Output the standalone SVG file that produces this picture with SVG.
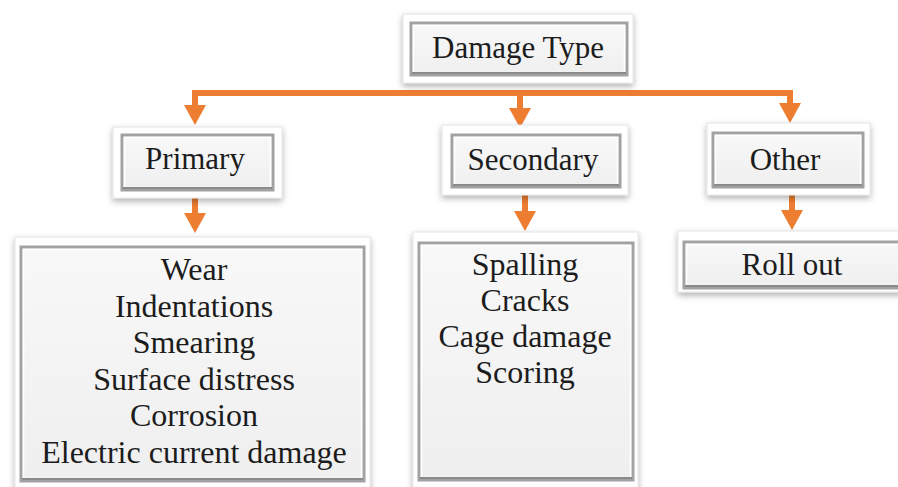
<svg xmlns="http://www.w3.org/2000/svg" width="898" height="487" viewBox="0 0 898 487">
  <defs>
    <filter id="shadow" x="-10%" y="-10%" width="120%" height="130%">
      <feDropShadow dx="0" dy="3" stdDeviation="3" flood-color="#000" flood-opacity="0.3"/>
    </filter>
    <linearGradient id="face" x1="0" y1="0" x2="0" y2="1">
      <stop offset="0" stop-color="#f8f8f8"/>
      <stop offset="1" stop-color="#efefef"/>
    </linearGradient>
    <!-- arrowhead drawn pointing along +x; base sits on the path end -->
    <marker id="arrow" viewBox="0 0 20 22" refX="0" refY="11" markerWidth="20" markerHeight="22" markerUnits="userSpaceOnUse" orient="auto">
      <path d="M0,0 L20,11 L0,22 Z" fill="#ed7d31"/>
    </marker>
  </defs>
  <style>
    .frame { fill: #ffffff; stroke: #e4e4e4; stroke-width: 1; filter: url(#shadow); }
    .face { fill: url(#face); stroke: #a2a2a2; stroke-width: 3; }
    .hi { fill: none; stroke: #ffffff; stroke-width: 1.5; }
    .shade { fill: none; stroke: #8a8a8a; stroke-width: 2; }
    .label { font-family: "Liberation Serif", "Times New Roman", serif; font-size: 31px; fill: #1c1c1c; text-anchor: middle; }
    .item { font-size: 32px; }
    .conn { fill: none; stroke: #ed7d31; stroke-width: 6; }
  </style>

  <rect width="898" height="487" fill="#ffffff"/>

  <!-- connectors -->
  <g id="connectors">
    <path class="conn" d="M192,93 H793"/>
    <path class="conn" d="M195,90 V105" marker-end="url(#arrow)"/>
    <path class="conn" d="M520,93 V108" marker-end="url(#arrow)"/>
    <path class="conn" d="M790,90 V103" marker-end="url(#arrow)"/>
    <path class="conn" d="M195,198 V213" marker-end="url(#arrow)"/>
    <path class="conn" d="M525,195 V211" marker-end="url(#arrow)"/>
    <path class="conn" d="M792,195 V210" marker-end="url(#arrow)"/>
  </g>

  <!-- top node -->
  <g id="damage-type">
    <rect class="frame" x="403" y="14" width="230" height="69"/>
    <rect class="face" x="411" y="23" width="216" height="52"/>
    <rect class="hi" x="413.5" y="25.5" width="211" height="47"/>
    <path class="shade" d="M412,73 H626"/>
    <text class="label" x="518" y="58">Damage Type</text>
  </g>

  <!-- category nodes -->
  <g id="primary">
    <rect class="frame" x="113" y="127" width="169" height="71"/>
    <rect class="face" x="122" y="135" width="151" height="55"/>
    <rect class="hi" x="124.5" y="137.5" width="146" height="50"/>
    <path class="shade" d="M123,188 H272"/>
    <text class="label" x="195" y="169">Primary</text>
  </g>

  <g id="secondary">
    <rect class="frame" x="442" y="125" width="186" height="70"/>
    <rect class="face" x="452" y="135" width="168" height="52"/>
    <rect class="hi" x="454.5" y="137.5" width="163" height="47"/>
    <path class="shade" d="M453,185 H619"/>
    <text class="label" x="533" y="170">Secondary</text>
  </g>

  <g id="other">
    <rect class="frame" x="707" y="123" width="163" height="72"/>
    <rect class="face" x="713" y="133" width="150" height="54"/>
    <rect class="hi" x="715.5" y="135.5" width="145" height="49"/>
    <path class="shade" d="M714,185 H862"/>
    <text class="label" x="785" y="170">Other</text>
  </g>

  <!-- detail nodes -->
  <g id="primary-list">
    <rect class="frame" x="15" y="237" width="355" height="260"/>
    <rect class="face" x="21" y="247" width="343" height="234"/>
    <rect class="hi" x="23.5" y="249.5" width="338" height="229"/>
    <path class="shade" d="M22,479 H363"/>
    <text class="label item" x="194" y="280">Wear</text>
    <text class="label item" x="194" y="316.6">Indentations</text>
    <text class="label item" x="194" y="353.2">Smearing</text>
    <text class="label item" x="194" y="389.8">Surface distress</text>
    <text class="label item" x="194" y="426.4">Corrosion</text>
    <text class="label item" x="194" y="463">Electric current damage</text>
  </g>

  <g id="secondary-list">
    <rect class="frame" x="413" y="232" width="225" height="265"/>
    <rect class="face" x="419" y="243" width="214" height="237"/>
    <rect class="hi" x="421.5" y="245.5" width="209" height="232"/>
    <path class="shade" d="M420,478 H632"/>
    <text class="label item" x="525" y="275">Spalling</text>
    <text class="label item" x="525" y="311">Cracks</text>
    <text class="label item" x="525" y="347">Cage damage</text>
    <text class="label item" x="525" y="383">Scoring</text>
  </g>

  <g id="other-list">
    <rect class="frame" x="678" y="231" width="230" height="61"/>
    <rect class="face" x="684" y="242" width="224" height="46"/>
    <rect class="hi" x="686.5" y="244.5" width="220" height="41"/>
    <path class="shade" d="M685,286 H898"/>
    <text class="label" x="792" y="275">Roll out</text>
  </g>
</svg>
